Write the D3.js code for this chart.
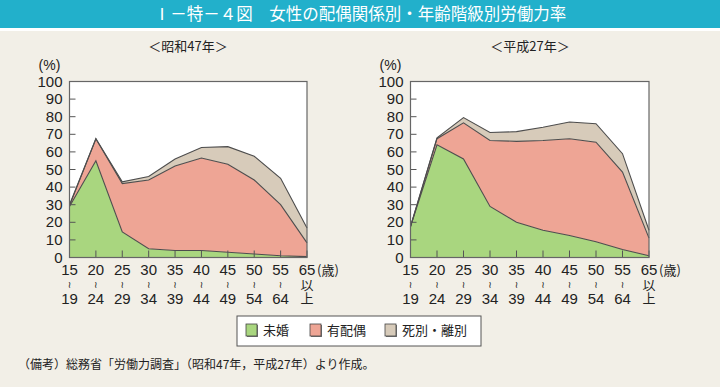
<!DOCTYPE html>
<html><head><meta charset="utf-8">
<script src="https://cdn.jsdelivr.net/npm/d3@7/dist/d3.min.js"></script>
<style>
body{margin:0;background:#f2efe7;}
svg{display:block;}
</style></head>
<body>
<svg id="c" width="720" height="387"></svg>
<script>
const ageTop = ["15","20","25","30","35","40","45","50","55","65"];
const ageBottom = ["19","24","29","34","39","44","49","54","64",""];
const ageMid = ["≀","≀","≀","≀","≀","≀","≀","≀","≀","以上"];
const seriesNames = ["未婚","有配偶","死別・離別"];
const colors = ["#a9d67f","#eea595","#d7cbba"];
// 昭和47年 (contribution of each status, stacked)
const s47Unmarried = [29, 55, 14.5, 5, 4, 4, 3, 2, 1, 0.5];
const s47Married   = [0.5, 12.5, 27.5, 39, 48, 52.5, 50, 42, 29, 7.8];
const s47Widowed   = [0.5, 0, 1, 2, 4, 6, 10, 13.5, 15, 8.5];
// 平成27年
const h27Unmarried = [17.5, 64, 56, 29, 20, 15.5, 12.5, 9, 4.5, 1];
const h27Married   = [0, 3.5, 20.5, 37.5, 46, 51, 55, 56.5, 44, 10];
const h27Widowed   = [0.1, 0.5, 3, 4.5, 5.5, 7.5, 9.5, 10.5, 10.5, 4.5];
const yTicks = [0,10,20,30,40,50,60,70,80,90,100];

const svg = d3.select("#c");
// title bar
svg.append("rect").attr("x",0).attr("y",0).attr("width",720).attr("height",28).attr("fill","#22b0cb");
svg.append("rect").attr("x",0).attr("y",28).attr("width",720).attr("height",3).attr("fill","#ffffff");
svg.append("text").attr("x",360).attr("y",20).attr("text-anchor","middle")
  .attr("font-family","'Noto Sans CJK JP'").attr("font-size",16.5).attr("fill","#fff")
  .text("Ⅰ－特－４図　女性の配偶関係別・年齢階級別労働力率");

function drawChart(left, right, title, titleX, vals){
  const top = 81.5, bottom = 257.5;
  const x = d3.scalePoint().domain(ageTop).range([left, right]);
  const y = d3.scaleLinear().domain([0,100]).range([bottom, top]);
  const g = svg.append("g");
  g.append("rect").attr("x",left).attr("y",top).attr("width",right-left).attr("height",bottom-top).attr("fill","#fff");
  const rows = ageTop.map((a,i)=>({age:a, s0:vals[0][i], s1:vals[1][i], s2:vals[2][i]}));
  const stack = d3.stack().keys(["s0","s1","s2"])(rows);
  const area = d3.area().x(d=>x(d.data.age)).y0(d=>y(d[0])).y1(d=>y(d[1]));
  const line = d3.line().x(d=>x(d.data.age)).y(d=>y(d[1]));
  stack.forEach((s,i)=>{
    g.append("path").attr("d",area(s)).attr("fill",colors[i]);
  });
  stack.forEach((s,i)=>{
    g.append("path").attr("d",line(s)).attr("fill","none").attr("stroke","#4d4d4d").attr("stroke-width",1.1);
  });
  // ticks
  yTicks.forEach(t=>{
    g.append("line").attr("x1",left).attr("x2",left+6).attr("y1",y(t)).attr("y2",y(t)).attr("stroke","#555").attr("stroke-width",1);
    g.append("text").attr("x",left-7).attr("y",y(t)+5).attr("text-anchor","end")
      .attr("font-family","'Liberation Sans',Arial").attr("font-size",15).attr("fill","#222").text(t);
  });
  ageTop.forEach((a,i)=>{
    g.append("line").attr("x1",x(a)).attr("x2",x(a)).attr("y1",bottom).attr("y2",bottom-7).attr("stroke","#555").attr("stroke-width",1);
    const tx = x(a);
    g.append("text").attr("x",tx).attr("y",275).attr("text-anchor","middle")
      .attr("font-family","'Liberation Sans',Arial").attr("font-size",15).attr("fill","#222").text(a);
    if(i<9){
      g.append("text").attr("x",tx).attr("y",288).attr("text-anchor","middle")
        .attr("font-family","'DejaVu Sans'").attr("font-size",9.5).attr("fill","#222").text(ageMid[i]);
      g.append("text").attr("x",tx).attr("y",303.5).attr("text-anchor","middle")
        .attr("font-family","'Liberation Sans',Arial").attr("font-size",15).attr("fill","#222").text(ageBottom[i]);
    } else {
      g.append("text").attr("x",tx).attr("y",279).attr("text-anchor","start")
        .style("writing-mode","vertical-rl")
        .attr("font-family","'Noto Sans CJK JP'").attr("font-size",13).attr("fill","#222").text(ageMid[i]);
    }
  });
  g.append("rect").attr("x",left).attr("y",top).attr("width",right-left).attr("height",bottom-top)
    .attr("fill","none").attr("stroke","#666").attr("stroke-width",1.2);
  g.append("text").attr("x",right+10).attr("y",275).attr("font-family","'Noto Sans CJK JP'").attr("font-size",13).attr("fill","#222").text("(歳)");
  g.append("text").attr("x",left-20).attr("y",70).attr("text-anchor","middle").attr("font-family","'Liberation Sans',Arial").attr("font-size",14).attr("fill","#222").text("(%)");
  g.append("text").attr("x",titleX).attr("y",51).attr("text-anchor","middle").attr("font-family","'Noto Sans CJK JP'").attr("font-size",13).attr("fill","#222").text(title);
}
drawChart(69.5, 307, "＜昭和47年＞", 188, [s47Unmarried, s47Married, s47Widowed]);
drawChart(410.5, 649, "＜平成27年＞", 530, [h27Unmarried, h27Married, h27Widowed]);

// legend
const lg = svg.append("g");
lg.append("rect").attr("x",237).attr("y",316).attr("width",244).attr("height",30).attr("fill","#fff").attr("stroke","#555").attr("stroke-width",1);
const lx = [246, 310, 385];
seriesNames.forEach((n,i)=>{
  lg.append("rect").attr("x",lx[i]+1).attr("y",325).attr("width",11).attr("height",12).attr("fill","#777");
  lg.append("rect").attr("x",lx[i]).attr("y",324).attr("width",11).attr("height",12).attr("fill",colors[i]).attr("stroke","#444").attr("stroke-width",0.8);
  lg.append("text").attr("x",lx[i]+17).attr("y",335).attr("font-family","'Noto Sans CJK JP'").attr("font-size",13).attr("fill","#222").text(n);
});
svg.append("text").attr("x",18).attr("y",369).attr("font-family","'Noto Sans CJK JP'").attr("font-size",12).attr("fill","#222")
  .text("（備考）総務省「労働力調査」（昭和47年，平成27年）より作成。");
</script>
</body></html>
